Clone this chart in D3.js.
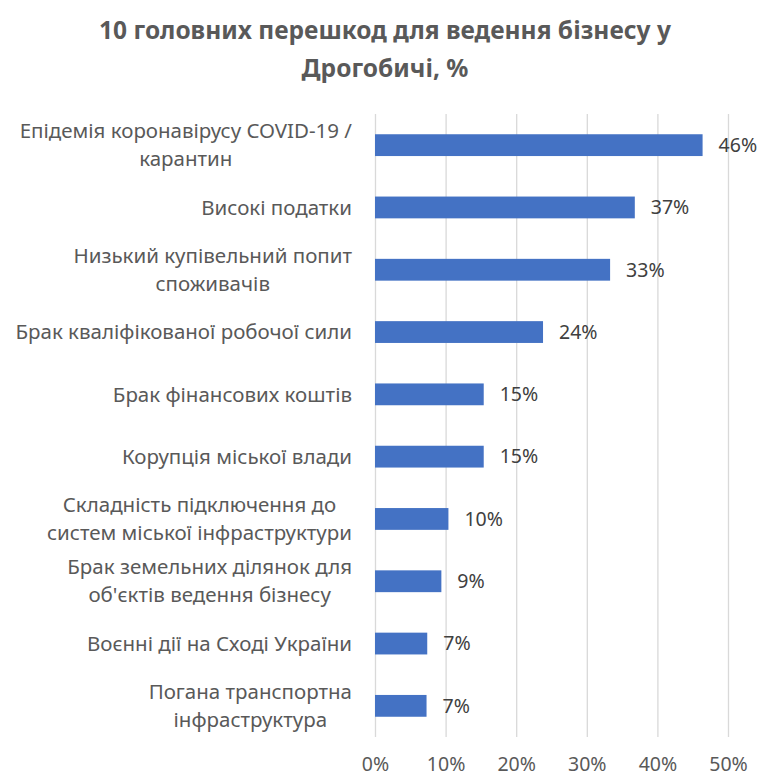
<!DOCTYPE html>
<html>
<head>
<meta charset="utf-8">
<script src="https://cdn.jsdelivr.net/npm/d3@7"></script>
<style>
  html, body { margin: 0; padding: 0; background: #fff; }
  svg { display: block; font-family: "Noto Sans", "Open Sans", sans-serif; }
</style>
</head>
<body>
<svg id="chart" width="761" height="778"></svg>
<script>
const titleLines = ["10 головних перешкод для ведення бізнесу у", "Дрогобичі, %"];
const categories = [
  ["Епідемія коронавірусу COVID-19 /", "карантин"],
  ["Високі податки"],
  ["Низький купівельний попит", "споживачів"],
  ["Брак кваліфікованої робочої сили"],
  ["Брак фінансових коштів"],
  ["Корупція міської влади"],
  ["Складність підключення до", "систем міської інфраструктури"],
  ["Брак земельних ділянок для", "об'єктів ведення бізнесу"],
  ["Воєнні дії на Сході України"],
  ["Погана транспортна", "інфраструктура"]
];
const values = [0.464, 0.368, 0.333, 0.238, 0.154, 0.154, 0.104, 0.094, 0.074, 0.073];
const tickValues = [0, 0.1, 0.2, 0.3, 0.4, 0.5];

const svg = d3.select("#chart");
const margin = { left: 375, right: 33, top: 114, bottom: 41 };
const W = 761, H = 778;

const x = d3.scaleLinear().domain([0, 0.5]).range([margin.left, W - margin.right]);
const y = d3.scaleBand().domain(d3.range(categories.length)).range([margin.top, H - margin.bottom]).paddingInner(0.65).paddingOuter(0.325);

// title
svg.append("g").selectAll("text").data(titleLines).join("text")
  .attr("x", 385).attr("y", (d, i) => 39 + i * 38)
  .attr("text-anchor", "middle")
  .attr("font-size", 24.5).attr("font-weight", "bold")
  .attr("fill", "#595959")
  .text(d => d);

// grid
const xAxis = d3.axisBottom(x).tickValues(tickValues).tickFormat(d3.format(".0%")).tickSize(-(H - margin.bottom - margin.top)).tickPadding(20);
const gx = svg.append("g").attr("transform", `translate(0,${H - margin.bottom})`).call(xAxis);
gx.select(".domain").remove();
gx.selectAll(".tick line").attr("stroke", "#d9d9d9").attr("stroke-width", 1.3);
gx.selectAll(".tick text").attr("fill", "#595959").attr("font-size", 19.5).attr("font-family", "Noto Sans, sans-serif");

// bars
svg.append("g").selectAll("rect").data(values).join("rect")
  .attr("x", x(0)).attr("y", (d, i) => y(i))
  .attr("width", d => x(d) - x(0)).attr("height", y.bandwidth())
  .attr("fill", "#4472c4");

// value labels
svg.append("g").selectAll("text").data(values).join("text")
  .attr("x", d => x(d) + 16).attr("y", (d, i) => y(i) + y.bandwidth() / 2)
  .attr("dy", "0.35em")
  .attr("font-size", 19.5).attr("fill", "#404040")
  .text(d => d3.format(".0%")(d));

// category labels
const lineH = 28;
const cg = svg.append("g").selectAll("g").data(categories).join("g");
cg.each(function(lines, i) {
  const g = d3.select(this);
  const cy = y(i) + y.bandwidth() / 2;
  const texts = g.selectAll("text").data(lines).join("text")
    .attr("y", (d, j) => cy + (j - (lines.length - 1) / 2) * lineH)
    .attr("dy", "0.35em")
    .attr("font-size", 20.5).attr("fill", "#595959")
    .text(d => d);
  const widths = texts.nodes().map(n => n.getComputedTextLength());
  const maxW = d3.max(widths);
  const center = 352 - maxW / 2;
  texts.attr("x", center).attr("text-anchor", "middle");
});
</script>
</body>
</html>
